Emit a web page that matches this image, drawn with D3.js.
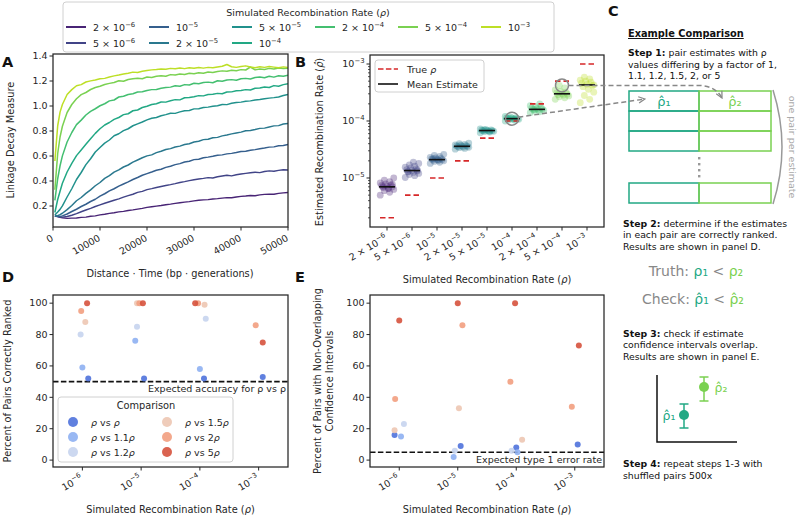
<!DOCTYPE html>
<html><head><meta charset="utf-8">
<script src="https://cdn.jsdelivr.net/npm/d3@7"></script>
<style>body{margin:0;background:#fff} svg{font-family:"DejaVu Sans",sans-serif}</style>
</head><body><svg id="c" width="800" height="518"></svg>
<script>
// ---------------- DATA ----------------
const rates = [2e-6, 5e-6, 1e-5, 2e-5, 5e-5, 1e-4, 2e-4, 5e-4, 1e-3];
const rateColors = ["#482475","#414487","#355f8d","#2a788e","#21918c","#22a884","#44bf70","#7ad151","#bddf26"];

// Panel A: linkage decay curves
const distances = [400,1000,1500,2000,
  3000,4000,5000,6000,7000,8000,9000,10000,11000,12000,
  13000,14000,15000,16000,17000,18000,19000,20000,21000,22000,
  23000,24000,25000,26000,27000,28000,29000,30000,31000,32000,
  33000,34000,35000,36000,37000,38000,39000,40000,41000,42000,
  43000,44000,45000,46000,47000,48000,49000,50000];
const decay_2e6 = [0.12,0.116,0.11,0.106,
  0.101,0.103,0.104,0.109,0.111,0.118,0.121,0.129,0.134,0.141,
  0.146,0.153,0.157,0.164,0.169,0.175,0.181,0.189,0.194,0.199,
  0.204,0.210,0.215,0.221,0.226,0.231,0.235,0.241,0.246,0.249,
  0.251,0.256,0.259,0.263,0.267,0.266,0.272,0.277,0.280,0.284,
  0.282,0.289,0.293,0.295,0.294,0.301,0.305,0.309];
const decay_5e6 = [0.12,0.115,0.112,0.111,
  0.116,0.126,0.139,0.154,0.168,0.181,0.196,0.209,0.222,0.234,
  0.246,0.257,0.271,0.283,0.294,0.309,0.317,0.331,0.339,0.348,
  0.356,0.364,0.371,0.379,0.388,0.395,0.403,0.41,0.416,0.421,
  0.427,0.424,0.434,0.44,0.446,0.441,0.45,0.456,0.461,0.466,
  0.47,0.467,0.476,0.481,0.478,0.485,0.49,0.488];
const decay_1e5 = [0.12,0.117,0.116,0.121,
  0.136,0.156,0.174,0.196,0.214,0.236,0.254,0.279,0.298,0.321,
  0.338,0.359,0.376,0.393,0.412,0.428,0.446,0.459,0.472,0.486,
  0.494,0.509,0.518,0.531,0.539,0.552,0.558,0.571,0.574,0.586,
  0.591,0.598,0.606,0.609,0.617,0.621,0.628,0.636,0.638,0.646,
  0.651,0.658,0.664,0.671,0.673,0.682,0.684,0.692];
const decay_2e5 = [0.121,0.122,0.131,0.142,
  0.171,0.204,0.242,0.268,0.301,0.329,0.362,0.388,0.421,0.443,
  0.471,0.489,0.512,0.528,0.551,0.568,0.586,0.601,0.609,0.627,
  0.638,0.652,0.659,0.672,0.679,0.692,0.698,0.712,0.718,0.731,
  0.734,0.746,0.749,0.761,0.768,0.777,0.784,0.791,0.802,0.804,
  0.812,0.821,0.823,0.832,0.841,0.843,0.856,0.86];
const decay_5e5 = [0.128,0.152,0.173,0.201,
  0.272,0.338,0.412,0.468,0.531,0.578,0.632,0.668,0.703,0.728,
  0.762,0.778,0.803,0.818,0.842,0.857,0.872,0.889,0.902,0.908,
  0.922,0.931,0.942,0.941,0.953,0.962,0.964,0.977,0.978,0.988,
  0.991,0.998,1.002,1.012,1.011,1.022,1.028,1.031,1.038,1.041,
  1.048,1.052,1.058,1.063,1.067,1.072,1.084,1.092];
const decay_1e4 = [0.148,0.252,0.318,0.382,
  0.472,0.541,0.603,0.648,0.694,0.738,0.781,0.818,0.848,0.868,
  0.893,0.908,0.931,0.938,0.962,0.968,0.988,0.998,1.012,1.018,
  1.032,1.031,1.042,1.051,1.049,1.066,1.068,1.074,1.083,1.081,
  1.092,1.094,1.101,1.098,1.112,1.113,1.122,1.124,1.131,1.128,
  1.142,1.144,1.152,1.148,1.163,1.158,1.171,1.178];
const decay_2e4 = [0.245,0.418,0.522,0.601,
  0.712,0.788,0.851,0.887,0.928,0.957,0.978,1.002,1.018,1.041,
  1.048,1.072,1.078,1.092,1.098,1.112,1.114,1.124,1.131,1.132,
  1.142,1.148,1.151,1.162,1.158,1.171,1.168,1.182,1.178,1.188,
  1.191,1.186,1.202,1.198,1.208,1.211,1.206,1.218,1.221,1.216,
  1.228,1.232,1.226,1.238,1.231,1.242,1.238,1.246];
const decay_5e4 = [0.33,0.62,0.752,0.838,
  0.948,1.012,1.058,1.091,1.108,1.132,1.148,1.158,1.172,1.181,
  1.188,1.202,1.198,1.212,1.218,1.222,1.218,1.232,1.228,1.238,
  1.242,1.238,1.251,1.248,1.256,1.252,1.262,1.258,1.266,1.262,
  1.272,1.268,1.276,1.281,1.278,1.286,1.282,1.291,1.288,1.312,
  1.289,1.296,1.292,1.301,1.296,1.304,1.299,1.302];
const decay_1e3 = [0.56,0.842,0.951,1.012,
  1.092,1.131,1.162,1.171,1.192,1.201,1.208,1.218,1.221,1.232,
  1.241,1.248,1.256,1.262,1.271,1.268,1.278,1.284,1.289,1.292,
  1.296,1.294,1.301,1.298,1.304,1.299,1.306,1.302,1.308,1.303,
  1.309,1.306,1.312,1.318,1.332,1.314,1.309,1.316,1.321,1.312,
  1.306,1.314,1.309,1.316,1.311,1.306,1.313,1.308];
const decayCurves = [decay_2e6, decay_5e6, decay_1e5, decay_2e5, decay_5e5, decay_1e4, decay_2e4, decay_5e4, decay_1e3];
const distTicks = [0, 10000, 20000, 30000, 40000, 50000];
const decayTicks = [0.2, 0.4, 0.6, 0.8, 1.0, 1.2, 1.4];

// Panel B: estimates
const est_2e6 = [5.0e-6,5.6e-6,6.0e-6,6.3e-6,6.6e-6,6.8e-6,7.0e-6,7.2e-6,7.4e-6,7.6e-6,7.9e-6,8.2e-6,8.6e-6,9.2e-6,1.0e-5,6.5e-6,7.1e-6,7.7e-6];
const est_5e6 = [1.02e-5,1.1e-5,1.15e-5,1.2e-5,1.25e-5,1.3e-5,1.33e-5,1.36e-5,1.4e-5,1.44e-5,1.5e-5,1.55e-5,1.62e-5,1.7e-5,1.8e-5,1.9e-5,1.28e-5,1.38e-5];
const est_1e5 = [1.8e-5,1.88e-5,1.95e-5,2.0e-5,2.03e-5,2.07e-5,2.1e-5,2.12e-5,2.15e-5,2.2e-5,2.25e-5,2.3e-5,2.4e-5,2.5e-5,2.6e-5,2.08e-5,2.18e-5];
const est_2e5 = [3.2e-5,3.3e-5,3.4e-5,3.45e-5,3.5e-5,3.55e-5,3.6e-5,3.62e-5,3.66e-5,3.7e-5,3.75e-5,3.8e-5,3.9e-5,4.0e-5,4.1e-5];
const est_5e5 = [6.2e-5,6.4e-5,6.5e-5,6.6e-5,6.7e-5,6.75e-5,6.8e-5,6.85e-5,6.9e-5,7.0e-5,7.1e-5,7.3e-5,6.6e-5,6.95e-5];
const est_1e4 = [1.0e-4,1.03e-4,1.05e-4,1.07e-4,1.08e-4,1.1e-4,1.1e-4,1.12e-4,1.13e-4,1.15e-4,1.17e-4,1.2e-4,1.09e-4,1.11e-4];
const est_2e4 = [1.4e-4,1.45e-4,1.5e-4,1.53e-4,1.56e-4,1.6e-4,1.62e-4,1.65e-4,1.68e-4,1.72e-4,1.78e-4,1.85e-4,2.0e-4,1.58e-4];
const est_5e4 = [2.4e-4,2.55e-4,2.65e-4,2.75e-4,2.85e-4,2.9e-4,2.95e-4,3.0e-4,3.1e-4,3.2e-4,3.3e-4,3.5e-4,3.8e-4,4.2e-4];
const est_1e3 = [2.1e-4,2.4e-4,2.8e-4,3.2e-4,3.6e-4,4.0e-4,4.2e-4,4.4e-4,4.6e-4,4.8e-4,5.0e-4,5.2e-4,5.5e-4,5.9e-4,4.3e-4];
const estimates = [est_2e6, est_5e6, est_1e5, est_2e5, est_5e5, est_1e4, est_2e4, est_5e4, est_1e3];
const meanEstimate = [7.0e-6, 1.35e-5, 2.1e-5, 3.6e-5, 6.8e-5, 1.1e-4, 1.6e-4, 3.0e-4, 4.3e-4];
const estTicks = [1e-5, 1e-4, 1e-3];
const highlighted = [{cat: 5, value: 1.1e-4}, {cat: 7, value: 4.2e-4}];

// Panels D and E
const binRates = [1e-6, 1e-5, 1e-4, 1e-3];
const compLabels = [["", " vs ", ""], ["", " vs 1.1", ""], ["", " vs 1.2", ""], ["", " vs 1.5", ""], ["", " vs 2", ""], ["", " vs 5", ""]];
const compColors = ["#4f72dc", "#8eb0f2", "#c6d4ee", "#edc6b2", "#f29f80", "#d6523d"];
const rankAcc = [[52,52,52,53],[59,76,58,null],[80,85,90,null],[88,100,99,null],[95,100,100,86],[100,100,100,75]];
const rankJitter = [[0.10,0.05,0.07,0.07],[0,-0.10,0,0],[-0.03,-0.07,0.10,0],[0.05,-0.07,0.08,0],[-0.02,-0.03,-0.03,-0.05],[0.08,0.03,-0.08,0.07]];
const nonOverlap = [[16,9,8,10],[15,2,5,null],[23,6,6,null],[19,33,13,null],[39,86,50,34],[89,100,100,73]];
const overlapJitter = [[-0.08,0.05,0,0.05],[0.03,-0.07,0.02,0],[0.08,-0.05,-0.08,0],[-0.08,0.02,0.10,0],[-0.07,0.08,-0.10,-0.05],[0,0,-0.02,0.07]];
const pctTicks = [0, 20, 40, 60, 80, 100];
const expectedAccuracy = 50;
const expectedType1 = 5;

// ---------------- HELPERS ----------------
const svg = d3.select("#c");
const INK = "#262626";
const TICK_FS = 9.5, LAB_FS = 9.8;

function decompose(v){ const e = Math.floor(Math.log10(v) + 1e-9); const m = Math.round(v / 10 ** e * 10) / 10; return [m, e]; }
function sciText(text, v, fs){
  const [m, e] = decompose(v);
  text.append("tspan").text(m === 1 ? "10" : `${m} × 10`);
  text.append("tspan").attr("dy", -fs * 0.45).attr("font-size", fs * 0.72).text("−" + (-e));
}
function rhoText(text, parts, italicRho){
  parts.forEach((p, i) => {
    if (p) text.append("tspan").text(p);
    if (i < parts.length - 1) text.append("tspan").attr("font-style", italicRho ? "italic" : "normal").text("ρ");
  });
}
function frame(x0, x1, y0, y1){
  svg.append("rect").attr("x", x0).attr("y", y0).attr("width", x1 - x0).attr("height", y1 - y0)
    .attr("fill", "none").attr("stroke", INK).attr("stroke-width", 1.25);
}
function yTicks(scale, ticks, x0, fmt){
  const g = svg.append("g");
  ticks.forEach(t => {
    const y = scale(t);
    g.append("line").attr("x1", x0 - 3.5).attr("x2", x0).attr("y1", y).attr("y2", y).attr("stroke", INK).attr("stroke-width", 1);
    const tx = g.append("text").attr("x", x0 - 5.5).attr("y", y).attr("dy", "0.35em").attr("text-anchor", "end")
      .attr("font-size", TICK_FS).attr("fill", INK);
    fmt(tx, t);
  });
}
function xTicksRot(positions, labels, y1, fmt){
  const g = svg.append("g");
  positions.forEach((x, i) => {
    g.append("line").attr("x1", x).attr("x2", x).attr("y1", y1).attr("y2", y1 + 3.5).attr("stroke", INK).attr("stroke-width", 1);
    const tx = g.append("text").attr("transform", `translate(${x + 1},${y1 + 13}) rotate(-30)`).attr("text-anchor", "end")
      .attr("font-size", TICK_FS).attr("fill", INK);
    fmt(tx, labels[i]);
  });
}
function axisLabel(x, y, rot, build){
  const t = svg.append("text").attr("transform", `translate(${x},${y}) rotate(${rot})`).attr("text-anchor", "middle")
    .attr("font-size", LAB_FS).attr("fill", INK);
  build(t);
  return t;
}
function panelLetter(x, y, s){
  svg.append("text").attr("x", x).attr("y", y).attr("font-size", 14.5).attr("font-weight", "bold").attr("fill", "#111").text(s);
}

// defs
const defs = svg.append("defs");
defs.append("clipPath").attr("id", "clipA").append("rect").attr("x", 53).attr("y", 54).attr("width", 235).attr("height", 173);
defs.append("marker").attr("id", "arr").attr("viewBox", "0 0 10 10").attr("refX", 9).attr("refY", 5)
  .attr("markerWidth", 8).attr("markerHeight", 8).attr("markerUnits", "userSpaceOnUse").attr("orient", "auto")
  .append("path").attr("d", "M1,1 L9,5 L1,9").attr("fill", "none").attr("stroke", "#888").attr("stroke-width", 1.6);

// ---------------- TOP LEGEND ----------------
svg.append("rect").attr("x", 63).attr("y", 2).attr("width", 491).attr("height", 50).attr("rx", 3)
  .attr("fill", "#fff").attr("stroke", "#d0d0d0").attr("stroke-width", 1);
axisLabel(308, 16, 0, t => rhoText(t, ["Simulated Recombination Rate (", ")"], true)).attr("font-size", 9.5);
// matplotlib ncol=6 layout: first columns get two entries, the rest one
const legendCols = [[0, 1], [2, 3], [4, 5], [6], [7], [8]];
legendCols.forEach((entries, col) => {
  entries.forEach((i, row) => {
    const lx = 66 + col * 83, ly = 27 + row * 16;
    svg.append("line").attr("x1", lx).attr("x2", lx + 20).attr("y1", ly).attr("y2", ly).attr("stroke", rateColors[i]).attr("stroke-width", 2);
    const t = svg.append("text").attr("x", lx + 27).attr("y", ly + 4).attr("font-size", 9.5).attr("fill", INK);
    sciText(t, rates[i], 9.5);
  });
});

// ---------------- PANEL A ----------------
const xA = d3.scaleLinear().domain([0, 50000]).range([53, 288]);
const yA = d3.scaleLinear().domain([0.032, 1.416]).range([227, 54]);
const lineA = d3.line().x((d, i) => xA(distances[i])).y(d => yA(d));
svg.append("g").attr("clip-path", "url(#clipA)").selectAll("path").data(decayCurves).join("path")
  .attr("d", d => lineA(d)).attr("fill", "none").attr("stroke", (d, i) => rateColors[i]).attr("stroke-width", 1.5)
  .attr("stroke-linejoin", "round");
frame(53, 288, 54, 227);
yTicks(yA, decayTicks, 53, (t, v) => t.text(v.toFixed(1)));
xTicksRot(distTicks.map(xA), distTicks, 227, (t, v) => t.text(String(v)));
axisLabel(14, 140, -90, t => t.text("Linkage Decay Measure"));
axisLabel(170, 277, 0, t => t.text("Distance · Time (bp · generations)"));
panelLetter(2, 67, "A");

// ---------------- PANEL B ----------------
const xB = d3.scalePoint().domain(d3.range(rates.length)).range([370, 604]).padding(0.68);
const yB = d3.scaleLog().domain([10 ** -5.86, 10 ** -2.842]).range([227, 55]);
const gB = svg.append("g");
estimates.forEach((arr, i) => {
  arr.forEach((v, j) => {
    const off = ((j * 7) % 11 - 5) * 1.35;
    gB.append("circle").attr("cx", xB(i) + off).attr("cy", yB(v)).attr("r", 3.4)
      .attr("fill", rateColors[i]).attr("fill-opacity", 0.33);
  });
});
rates.forEach((r, i) => {
  gB.append("line").attr("x1", xB(i) - 7).attr("x2", xB(i) + 7).attr("y1", yB(r)).attr("y2", yB(r))
    .attr("stroke", "#d62728").attr("stroke-width", 1.6).attr("stroke-dasharray", "5.5,3");
  gB.append("line").attr("x1", xB(i) - 8).attr("x2", xB(i) + 8).attr("y1", yB(meanEstimate[i])).attr("y2", yB(meanEstimate[i]))
    .attr("stroke", "#111").attr("stroke-width", 1.6);
});
highlighted.forEach(h => {
  gB.append("circle").attr("cx", xB(h.cat)).attr("cy", yB(h.value)).attr("r", 6.5)
    .attr("fill", "none").attr("stroke", "#888").attr("stroke-width", 1.5);
});
frame(370, 604, 55, 227);
const minorB = [];
[-6, -5, -4, -3].forEach(e => { for (let k = 2; k <= 9; k++) { const v = k * 10 ** e; if (v > yB.domain()[0] && v < yB.domain()[1]) minorB.push(v); } });
minorB.forEach(v => svg.append("line").attr("x1", 368).attr("x2", 370).attr("y1", yB(v)).attr("y2", yB(v)).attr("stroke", INK).attr("stroke-width", 0.8));
yTicks(yB, estTicks, 370, (t, v) => sciText(t, v, TICK_FS));
xTicksRot(rates.map((r, i) => xB(i)), rates, 227, (t, v) => sciText(t, v, TICK_FS));
axisLabel(323, 142, -90, t => { t.append("tspan").text("Estimated Recombination Rate ("); t.append("tspan").attr("font-style", "italic").text("ρ̂"); t.append("tspan").text(")"); });
axisLabel(487, 283, 0, t => rhoText(t, ["Simulated Recombination Rate (", ")"], true));
panelLetter(295, 67, "B");
svg.append("rect").attr("x", 375).attr("y", 60).attr("width", 109).attr("height", 32).attr("rx", 3)
  .attr("fill", "#fff").attr("fill-opacity", 0.85).attr("stroke", "#d0d0d0");
svg.append("line").attr("x1", 378).attr("x2", 398).attr("y1", 69).attr("y2", 69).attr("stroke", "#d62728").attr("stroke-width", 1.6).attr("stroke-dasharray", "5.5,2.4");
svg.append("line").attr("x1", 378).attr("x2", 398).attr("y1", 84).attr("y2", 84).attr("stroke", "#111").attr("stroke-width", 1.6);
{ const t = svg.append("text").attr("x", 407).attr("y", 72.5).attr("font-size", 9.5).attr("fill", INK); rhoText(t, ["True ", ""], true); }
svg.append("text").attr("x", 407).attr("y", 87.5).attr("font-size", 9.5).attr("fill", INK).text("Mean Estimate");

// ---------------- PANEL C ----------------
const cTeal = rateColors[5], cGreen = rateColors[7];
panelLetter(608, 16, "C");
svg.append("text").attr("x", 628).attr("y", 37).attr("font-size", 9.8).attr("font-weight", "bold")
  .attr("text-decoration", "underline").attr("fill", "#111").text("Example Comparison");
function stepBlock(x, y0, bold, lines){
  lines.forEach((ln, i) => {
    const t = svg.append("text").attr("x", x).attr("y", y0 + i * 11.5).attr("font-size", 9.3).attr("fill", "#111");
    if (i === 0) { t.append("tspan").attr("font-weight", "bold").text(bold); t.append("tspan").text(ln); }
    else t.text(ln);
  });
}
stepBlock(628, 56, "Step 1:", [" pair estimates with ρ", "values differing by a factor of 1,", "1.1, 1.2, 1.5, 2, or 5"]);
stepBlock(623, 226.5, "Step 2:", [" determine if the estimates", "in each pair are correctly ranked.", "Results are shown in panel D."]);
stepBlock(623, 336.5, "Step 3:", [" check if estimate", "confidence intervals overlap.", "Results are shown in panel E."]);
stepBlock(623, 467, "Step 4:", [" repeat steps 1-3 with", "shuffled pairs 500x"]);
const rowsY = [91, 111, 131, 183];
rowsY.forEach(y => {
  svg.append("rect").attr("x", 629).attr("y", y).attr("width", 70).attr("height", 20).attr("fill", "none").attr("stroke", cTeal).attr("stroke-width", 1.5);
});
rowsY.forEach(y => {
  svg.append("rect").attr("x", 699).attr("y", y).attr("width", 72).attr("height", 20).attr("fill", "none").attr("stroke", cGreen).attr("stroke-width", 1.5);
});
[158, 164, 170, 176].forEach(y => svg.append("rect").attr("x", 698).attr("y", y - 1).attr("width", 2.4).attr("height", 2.4).attr("fill", "#999"));
svg.append("text").attr("x", 664).attr("y", 106).attr("text-anchor", "middle").attr("font-size", 13).attr("fill", cTeal).text("ρ̂₁");
svg.append("text").attr("x", 735).attr("y", 106).attr("text-anchor", "middle").attr("font-size", 13).attr("fill", cGreen).text("ρ̂₂");
svg.append("path").attr("d", "M773,90 Q791,147 773,204").attr("fill", "none").attr("stroke", "#999").attr("stroke-width", 1.5);
svg.append("text").attr("transform", "translate(789,147) rotate(90)").attr("text-anchor", "middle").attr("font-size", 9.5)
  .attr("fill", "#aaa").text("one pair per estimate");
{
  const h1 = highlighted[1], h0 = highlighted[0];
  const sx = xB(h1.cat) + 6.5, sy = yB(h1.value);
  svg.append("path").attr("d", `M${sx},${sy} L700,${sy} Q716,${sy + 1} 722,98`).attr("fill", "none")
    .attr("stroke", "#888").attr("stroke-width", 1.5).attr("stroke-dasharray", "5,3").attr("marker-end", "url(#arr)");
  const bx = xB(h0.cat) + 6.3, by = yB(h0.value) - 1.5;
  svg.append("path").attr("d", `M${bx},${by} L645,99`).attr("fill", "none")
    .attr("stroke", "#888").attr("stroke-width", 1.5).attr("stroke-dasharray", "5,3").attr("marker-end", "url(#arr)");
}
{
  const t1 = svg.append("text").attr("x", 696).attr("y", 276).attr("text-anchor", "middle").attr("font-size", 14).attr("fill", "#888");
  t1.append("tspan").text("Truth: "); t1.append("tspan").attr("fill", cTeal).text("ρ₁"); t1.append("tspan").text(" < "); t1.append("tspan").attr("fill", cGreen).text("ρ₂");
  const t2 = svg.append("text").attr("x", 693).attr("y", 304).attr("text-anchor", "middle").attr("font-size", 14).attr("fill", "#888");
  t2.append("tspan").text("Check: "); t2.append("tspan").attr("fill", cTeal).text("ρ̂₁"); t2.append("tspan").text(" < "); t2.append("tspan").attr("fill", cGreen).text("ρ̂₂");
}
svg.append("path").attr("d", "M657,375 L657,442 L737,442").attr("fill", "none").attr("stroke", "#111").attr("stroke-width", 1.5);
[[684, 415, 404, 428, cTeal, "ρ̂₁", 669], [704, 387, 377, 401, cGreen, "ρ̂₂", 721]].forEach(([cx, cy, y0, y1, col, lab, lx]) => {
  svg.append("line").attr("x1", cx).attr("x2", cx).attr("y1", y0).attr("y2", y1).attr("stroke", col).attr("stroke-width", 1.5);
  svg.append("line").attr("x1", cx - 4.5).attr("x2", cx + 4.5).attr("y1", y0).attr("y2", y0).attr("stroke", col).attr("stroke-width", 1.5);
  svg.append("line").attr("x1", cx - 4.5).attr("x2", cx + 4.5).attr("y1", y1).attr("y2", y1).attr("stroke", col).attr("stroke-width", 1.5);
  svg.append("circle").attr("cx", cx).attr("cy", cy).attr("r", 5).attr("fill", col);
  svg.append("text").attr("x", lx).attr("y", cy + 4.5).attr("text-anchor", "middle").attr("font-size", 12.5).attr("fill", col).text(lab);
});

// ---------------- PANELS D & E ----------------
function pctPanel(x0, x1, values, jitter, refVal, refText, ylabLines, letter, letterX){
  const y0 = 295, y1 = 467;
  const x = d3.scalePoint().domain(d3.range(binRates.length)).range([x0, x1]).padding(0.5);
  const y = d3.scaleLinear().domain([-4.4, 105.2]).range([y1, y0]);
  svg.append("line").attr("x1", x0).attr("x2", x1).attr("y1", y(refVal)).attr("y2", y(refVal))
    .attr("stroke", "#111").attr("stroke-width", 1.6).attr("stroke-dasharray", "5.5,2.4");
  svg.append("text").attr("x", x1 - 2).attr("y", y(refVal) + 10.5).attr("text-anchor", "end").attr("font-size", 9.5).attr("fill", INK)
    .call(t => rhoText(t, refText, false));
  values.forEach((arr, c) => {
    arr.forEach((v, b) => {
      if (v === null) return;
      svg.append("circle").attr("cx", x(b) + jitter[c][b] * x.step()).attr("cy", y(v)).attr("r", 3)
        .attr("fill", compColors[c]).attr("fill-opacity", 0.9);
    });
  });
  frame(x0, x1, y0, y1);
  yTicks(y, pctTicks, x0, (t, v) => t.text(String(v)));
  xTicksRot(binRates.map((r, i) => x(i)), binRates, y1, (t, v) => sciText(t, v, TICK_FS));
  axisLabel((x0 + x1) / 2, 513, 0, t => rhoText(t, ["Simulated Recombination Rate (", ")"], true));
  ylabLines.forEach((ln) => axisLabel(ln[0], 381, -90, t => t.text(ln[1])));
  panelLetter(letterX, 282, letter);
  return {x, y};
}
pctPanel(53, 288, rankAcc, rankJitter, expectedAccuracy, ["Expected accuracy for ", " vs ", ""],
  [[11, "Percent of Pairs Correctly Ranked"]], "D", 2);
pctPanel(370, 604, nonOverlap, overlapJitter, expectedType1, ["Expected type 1 error rate"],
  [[321, "Percent of Pairs with Non-Overlapping"], [333, "Confidence Intervals"]], "E", 295);

svg.append("rect").attr("x", 58).attr("y", 397).attr("width", 175).attr("height", 65).attr("rx", 3)
  .attr("fill", "#fff").attr("fill-opacity", 0.85).attr("stroke", "#d0d0d0");
svg.append("text").attr("x", 146).attr("y", 409).attr("text-anchor", "middle").attr("font-size", 9.8).attr("fill", INK).text("Comparison");
compLabels.forEach((parts, i) => {
  const col = Math.floor(i / 3), row = i % 3;
  const mx = 73 + col * 94, my = 422 + row * 15;
  svg.append("circle").attr("cx", mx).attr("cy", my).attr("r", 5).attr("fill", compColors[i]).attr("fill-opacity", 0.9);
  const t = svg.append("text").attr("x", mx + 18).attr("y", my + 3.5).attr("font-size", 9.5).attr("fill", INK);
  rhoText(t, parts, true);
});
</script></body></html>
